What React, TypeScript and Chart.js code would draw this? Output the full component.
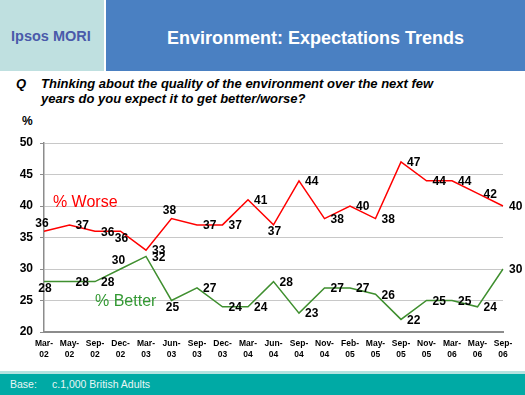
import React, { useEffect, useRef } from "react";
import { Chart, registerables } from "chart.js";

Chart.register(...registerables);

const categories: string[][] = [
  ["Mar-", "02"], ["May-", "02"], ["Sep-", "02"], ["Dec-", "02"], ["Mar-", "03"],
  ["Jun-", "03"], ["Sep-", "03"], ["Dec-", "03"], ["Mar-", "04"], ["Jun-", "04"],
  ["Sep-", "04"], ["Nov-", "04"], ["Feb-", "05"], ["May-", "05"], ["Sep-", "05"],
  ["Nov-", "05"], ["Mar-", "06"], ["May-", "06"], ["Sep-", "06"],
];
const worse: number[] = [36, 37, 36, 36, 33, 38, 37, 37, 41, 37, 44, 38, 40, 38, 47, 44, 44, 42, 40];
const better: number[] = [28, 28, 28, 30, 32, 25, 27, 24, 24, 28, 23, 27, 27, 26, 22, 25, 25, 24, 30];
const yTicks: number[] = [20, 25, 30, 35, 40, 45, 50];

// label placement per point (style)
const worsePos: string[] = ["above", "right", "right", "below", "right", "above", "right", "right", "right", "below", "right", "right", "right", "right", "right", "right", "right", "right", "right"];
const betterPos: string[] = ["below", "right", "right", "above", "right", "below", "right", "right", "right", "right", "right", "right", "right", "right", "right", "right", "right", "right", "right"];

const RED = "#ff0000";
const GREEN = "#3f8f2f";

const labelPlugin = {
  id: "pointLabels",
  afterDatasetsDraw(chart: any) {
    const ctx = chart.ctx;
    const xs = chart.scales.x;
    const ys = chart.scales.y;
    ctx.save();
    ctx.font = "bold 12px Arial, 'Liberation Sans', sans-serif";
    ctx.fillStyle = "#000";
    const posSets = [worsePos, betterPos];
    chart.data.datasets.forEach((ds: any, di: number) => {
      const meta = chart.getDatasetMeta(di);
      meta.data.forEach((pt: any, i: number) => {
        const v = String(ds.data[i]);
        const p = posSets[di][i];
        if (p === "right") {
          ctx.textAlign = "left";
          ctx.textBaseline = "middle";
          ctx.fillText(v, pt.x + 6, pt.y + 1);
        } else if (p === "above") {
          ctx.textAlign = "center";
          ctx.textBaseline = "bottom";
          ctx.fillText(v, pt.x - 2, pt.y - 2);
        } else {
          ctx.textAlign = "center";
          ctx.textBaseline = "top";
          ctx.fillText(v, pt.x + 1, pt.y + 1);
        }
      });
    });
    // series names
    const step = xs.getPixelForValue(1) - xs.getPixelForValue(0);
    ctx.font = "16px Arial, 'Liberation Sans', sans-serif";
    ctx.textAlign = "left";
    ctx.textBaseline = "middle";
    ctx.fillStyle = RED;
    ctx.fillText("% Worse", xs.getPixelForValue(0) + step * 0.35, ys.getPixelForValue(40.5));
    ctx.fillStyle = "#339933";
    ctx.fillText("% Better", xs.getPixelForValue(0) + step * 2.0, ys.getPixelForValue(24.9));
    ctx.restore();
  },
};

export default function App() {
  const ref = useRef<HTMLCanvasElement>(null);
  useEffect(() => {
    if (!ref.current) return;
    const chart = new Chart(ref.current, {
      type: "line",
      data: {
        labels: categories,
        datasets: [
          { label: "% Worse", data: worse, borderColor: RED, borderWidth: 1.5, pointRadius: 0, tension: 0 },
          { label: "% Better", data: better, borderColor: GREEN, borderWidth: 1.5, pointRadius: 0, tension: 0 },
        ],
      },
      options: {
        animation: false,
        responsive: false,
        maintainAspectRatio: false,
        layout: { padding: { top: 33, right: 22, left: 0, bottom: 0 } },
        plugins: { legend: { display: false }, tooltip: { enabled: false } },
        scales: {
          x: {
            offset: false,
            grid: { display: false, drawTicks: false },
            border: { color: "#8c8c8c", width: 2 },
            ticks: {
              autoSkip: false,
              maxRotation: 0,
              minRotation: 0,
              padding: 7,
              color: "#000",
              font: { family: "Arial, 'Liberation Sans', sans-serif", size: 8.5, weight: "bold", lineHeight: 1.2 },
            },
            afterFit: (s: any) => { s.height = 40; },
          },
          y: {
            min: 20,
            max: 50,
            afterBuildTicks: (s: any) => { s.ticks = yTicks.map((v) => ({ value: v })); },
            grid: { color: "#c8c8c8", lineWidth: 1, tickColor: "#8c8c8c", tickLength: 4 },
            border: { color: "#8c8c8c", width: 1.5 },
            ticks: {
              color: "#000",
              padding: 7,
              font: { family: "Arial, 'Liberation Sans', sans-serif", size: 12, weight: "bold" },
            },
            afterFit: (s: any) => { s.width = 44; },
          },
        },
      },
      plugins: [labelPlugin],
    });
    return () => chart.destroy();
  }, []);

  const font = "Arial, 'Liberation Sans', sans-serif";
  return (
    <div style={{ position: "fixed", left: 0, top: 0, width: 525, height: 395, background: "#fff", overflow: "hidden", fontFamily: font }}>
      <div style={{ position: "absolute", left: 0, top: 0, width: 104, height: 71, background: "#bfe0e0" }} />
      <div style={{ position: "absolute", left: 11, top: 28, fontSize: 14.5, fontWeight: "bold", color: "#4a5aaa", whiteSpace: "nowrap" }}>Ipsos MORI</div>
      <div style={{ position: "absolute", left: 106, top: 0, width: 419, height: 71, background: "#4a80c2" }} />
      <div style={{ position: "absolute", left: 106, top: 28, width: 419, textAlign: "center", fontSize: 18, fontWeight: "bold", color: "#fff", whiteSpace: "nowrap" }}>Environment: Expectations Trends</div>
      <div style={{ position: "absolute", left: 16, top: 76, fontSize: 13, fontWeight: "bold", fontStyle: "italic", color: "#000" }}>Q</div>
      <div style={{ position: "absolute", left: 41, top: 76, width: 470, fontSize: 13, lineHeight: "15px", fontWeight: "bold", fontStyle: "italic", color: "#000" }}>
        Thinking about the quality of the environment over the next few<br />years do you expect it to get better/worse?
      </div>
      <div style={{ position: "absolute", left: 22, top: 114, fontSize: 12, fontWeight: "bold", color: "#000" }}>%</div>
      <canvas ref={ref} width={525} height={262} style={{ position: "absolute", left: 0, top: 110, width: 525, height: 262 }} />
      <div style={{ position: "absolute", left: 0, top: 371, width: 525, height: 3, background: "#b5e2e0" }} />
      <div style={{ position: "absolute", left: 0, top: 374, width: 525, height: 21, background: "#00aaa5" }} />
      <div style={{ position: "absolute", left: 10, top: 378, fontSize: 10.5, color: "#e8f6f6", whiteSpace: "nowrap" }}>Base:</div>
      <div style={{ position: "absolute", left: 52, top: 378, fontSize: 10.5, color: "#e8f6f6", whiteSpace: "nowrap" }}>c.1,000 British Adults</div>
    </div>
  );
}
